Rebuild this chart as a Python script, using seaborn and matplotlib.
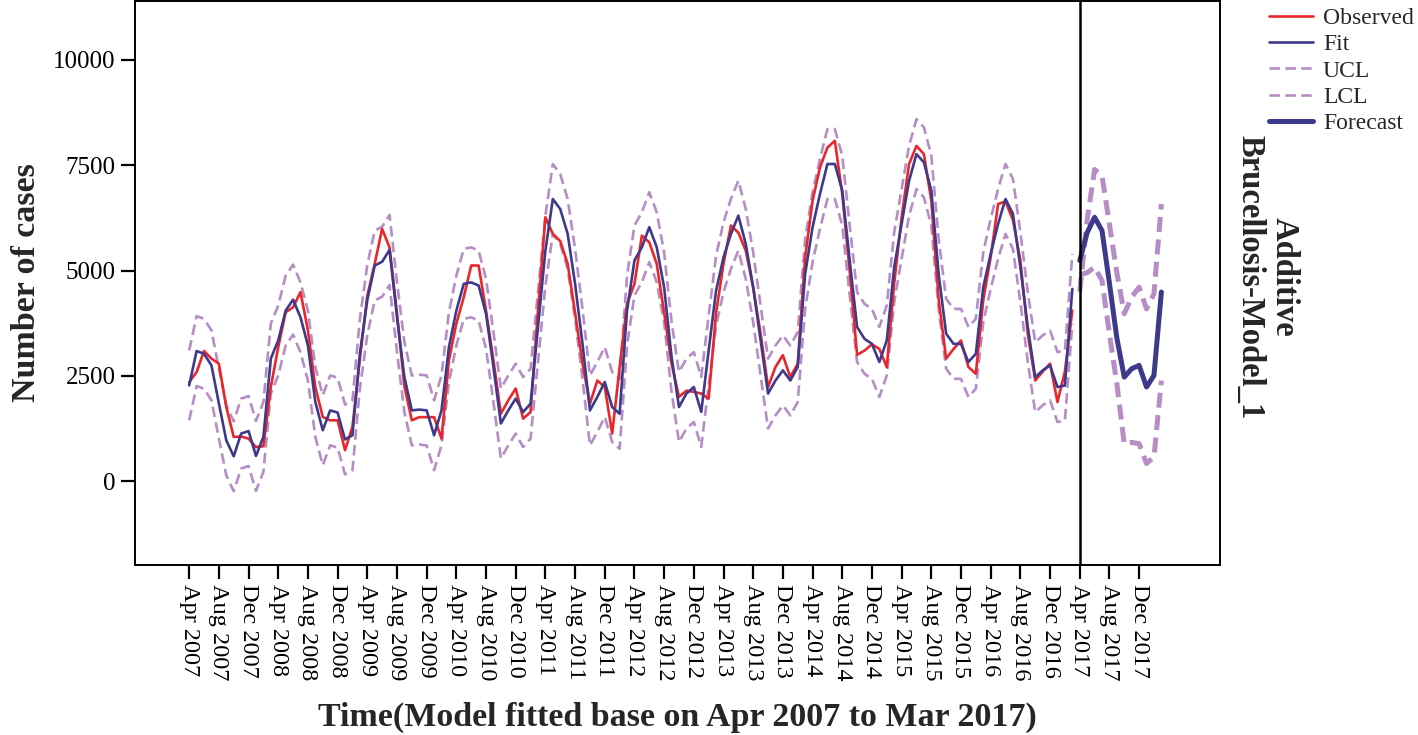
import numpy as np
import pandas as pd
import matplotlib
matplotlib.use("Agg")
import matplotlib.pyplot as plt
import seaborn as sns

# ---------------- data ----------------
months = pd.date_range("2007-04-01", periods=132, freq="MS")
hist_idx = list(range(0, 120))
fc_idx = list(range(120, 132))

observed = [2350, 2590, 3090, 2910, 2790, 1760, 1050, 1060, 1010, 810, 830, 2235,
            3180, 4010, 4130, 4490, 3580, 2235, 1525, 1445, 1445, 735, 1290, 2900,
            4400, 5160, 5990, 5550, 3990, 2250, 1445, 1520, 1520, 1520, 1010, 2870,
            3740, 4370, 5120, 5120, 4050, 2870, 1600, 1920, 2200, 1485, 1640, 4050,
            6265, 5870, 5700, 5160, 4000, 2790, 1840, 2390, 2235, 1130, 2700, 4210,
            4685, 5830, 5670, 5160, 4000, 2790, 2000, 2150, 2120, 2080, 1960, 4000,
            5160, 6070, 5900, 5475, 4600, 3500, 2235, 2710, 2990, 2470, 2790, 5315,
            6660, 7450, 7920, 8080, 6820, 5000, 3000, 3100, 3250, 3140, 2710, 4700,
            6265, 7530, 7960, 7765, 6660, 4300, 2910, 3140, 3340, 2710, 2550, 4300,
            5320, 6580, 6640, 6200, 5240, 3500, 2390, 2600, 2790, 1880, 2600, 4050]

fit = [2275, 3090, 3025, 2750, 1850, 970, 590, 1130, 1190, 600, 1050, 2910,
       3340, 4050, 4310, 3890, 3220, 1880, 1210, 1680, 1630, 990, 1090, 3025,
       4300, 5120, 5210, 5490, 3900, 2470, 1680, 1700, 1680, 1090, 1680, 3180,
       4050, 4685, 4720, 4645, 3975, 2710, 1370, 1680, 1960, 1640, 1840, 3660,
       5475, 6700, 6460, 5870, 4685, 3260, 1680, 2000, 2355, 1760, 1600, 4050,
       5240, 5555, 6030, 5555, 4600, 2950, 1760, 2080, 2235, 1645, 3105, 4525,
       5315, 5870, 6305, 5630, 4600, 3340, 2080, 2390, 2630, 2390, 2710, 4920,
       6030, 6820, 7530, 7530, 6900, 5240, 3660, 3380, 3260, 2830, 3340, 5080,
       6110, 7130, 7765, 7570, 6900, 4900, 3500, 3260, 3260, 2830, 3025, 4605,
       5395, 6110, 6700, 6345, 5080, 3660, 2470, 2630, 2750, 2235, 2270, 4565]

ucl = [3105, 3920, 3855, 3580, 2680, 1800, 1420, 1960, 2020, 1430, 1880, 3740,
       4170, 4880, 5140, 4720, 4050, 2710, 2040, 2510, 2460, 1820, 1920, 3855,
       5130, 5950, 6040, 6320, 4730, 3300, 2510, 2530, 2510, 1920, 2510, 4010,
       4880, 5515, 5550, 5475, 4805, 3540, 2200, 2510, 2790, 2470, 2670, 4490,
       6305, 7530, 7290, 6700, 5515, 4090, 2510, 2830, 3185, 2590, 2430, 4880,
       6070, 6385, 6860, 6385, 5430, 3780, 2590, 2910, 3065, 2475, 3935, 5355,
       6145, 6700, 7135, 6460, 5430, 4170, 2910, 3220, 3460, 3220, 3540, 5750,
       6860, 7650, 8360, 8360, 7730, 6070, 4490, 4210, 4090, 3660, 4170, 5910,
       6940, 7960, 8595, 8400, 7730, 5730, 4330, 4090, 4090, 3660, 3855, 5435,
       6225, 6940, 7530, 7175, 5910, 4490, 3300, 3460, 3580, 3065, 3100, 5395]

lcl = [1445, 2260, 2195, 1920, 1020, 140, -240, 300, 360, -230, 220, 2080,
       2510, 3220, 3480, 3060, 2390, 1050, 380, 850, 800, 160, 260, 2195,
       3470, 4290, 4380, 4660, 3070, 1640, 850, 870, 850, 260, 850, 2350,
       3220, 3855, 3890, 3815, 3145, 1880, 540, 850, 1130, 810, 1010, 2830,
       4645, 5870, 5630, 5040, 3855, 2430, 850, 1170, 1525, 930, 770, 3220,
       4410, 4725, 5200, 4725, 3770, 2120, 930, 1250, 1405, 815, 2275, 3695,
       4485, 5040, 5475, 4800, 3770, 2510, 1250, 1560, 1800, 1560, 1880, 4090,
       5200, 5990, 6700, 6700, 6070, 4410, 2830, 2550, 2430, 2000, 2510, 4250,
       5280, 6300, 6935, 6740, 6070, 4070, 2670, 2430, 2430, 2000, 2195, 3775,
       4565, 5280, 5870, 5515, 4250, 2830, 1640, 1800, 1920, 1405, 1440, 3735]

forecast = [5240, 5900, 6265, 5950, 4700, 3400, 2470, 2670, 2750, 2235, 2510, 4490]
fc_ucl = [4500, 6200, 7400, 7250, 6100, 4950, 3975, 4370, 4605, 4090, 4450, 6580]
fc_lcl = [4900, 4950, 5080, 4765, 3500, 2315, 890, 920, 890, 420, 575, 2390]

tick_idx = list(range(0, 132, 4))
tick_labels = [months[i].strftime("%b %Y") for i in tick_idx]
yticks = [0, 2500, 5000, 7500, 10000]

# ---------------- style ----------------
sns.set_theme(style="ticks")
plt.rcParams["font.family"] = ["Liberation Serif", "DejaVu Serif"]
plt.rcParams["axes.linewidth"] = 1.4

RED = "#e8272b"
NAVY = "#3d3a8c"
LILAC = "#b68dc4"

fig = plt.figure(figsize=(14.18, 7.35), dpi=100)
ax = fig.add_axes([135 / 1418, 1 - 565 / 735, (1220 - 135) / 1418, (565 - 1) / 735])

sns.lineplot(x=hist_idx, y=ucl, ax=ax, color=LILAC, linewidth=1.9,
             linestyle=(0, (4, 2)), label="UCL", zorder=2)
sns.lineplot(x=hist_idx, y=lcl, ax=ax, color=LILAC, linewidth=1.9,
             linestyle=(0, (4, 2)), label="LCL", zorder=2)
sns.lineplot(x=fc_idx, y=fc_ucl, ax=ax, color=LILAC, linewidth=3.6,
             linestyle=(0, (3, 1.5)), zorder=2)
sns.lineplot(x=fc_idx, y=fc_lcl, ax=ax, color=LILAC, linewidth=3.6,
             linestyle=(0, (3, 1.5)), zorder=2)
sns.lineplot(x=hist_idx, y=observed, ax=ax, color=RED, linewidth=1.9,
             label="Observed", zorder=3)
sns.lineplot(x=hist_idx, y=fit, ax=ax, color=NAVY, linewidth=1.9,
             label="Fit", zorder=4)
sns.lineplot(x=fc_idx, y=forecast, ax=ax, color=NAVY, linewidth=3.6,
             label="Forecast", zorder=4)

ax.axvline(120, color="black", linewidth=1.8, zorder=5)

ax.set_xlim(-7.3, 138.9)
ax.set_ylim(-1990, 11400)
ax.set_xticks(tick_idx)
ax.set_xticklabels(tick_labels, rotation=270, fontsize=17.5)
ax.set_yticks(yticks)
ax.set_yticklabels([str(v) for v in yticks], fontsize=18)
ax.tick_params(axis="both", direction="out", length=10, width=1.6, color="black",
               labelcolor="black", pad=4)
for s in ax.spines.values():
    s.set_color("black")
    s.set_linewidth(1.4)

ax.set_xlabel("Time(Model fitted base on Apr 2007 to Mar 2017)", fontsize=24.5,
              fontweight="bold", labelpad=15)
ax.set_ylabel("Number of cases", fontsize=24.5, fontweight="bold", labelpad=8)

# legend in the requested order
handles, labels = ax.get_legend_handles_labels()
order = ["Observed", "Fit", "UCL", "LCL", "Forecast"]
hmap = dict(zip(labels, handles))
ax.legend([hmap[k] for k in order], order, loc="upper left",
          bbox_to_anchor=(1261 / 1418, 1.0), bbox_transform=fig.transFigure,
          frameon=False, fontsize=17, handlelength=1.9, handletextpad=0.4,
          labelspacing=0.2, borderpad=0.32, borderaxespad=0)

fig.text(1267 / 1418, 1 - 277 / 735, "Additive\nBrucellosis-Model_1", rotation=270,
         ha="center", va="center", fontsize=23.5, fontweight="bold",
         multialignment="center", linespacing=1.1)

fig.savefig("out.png", dpi=100)
